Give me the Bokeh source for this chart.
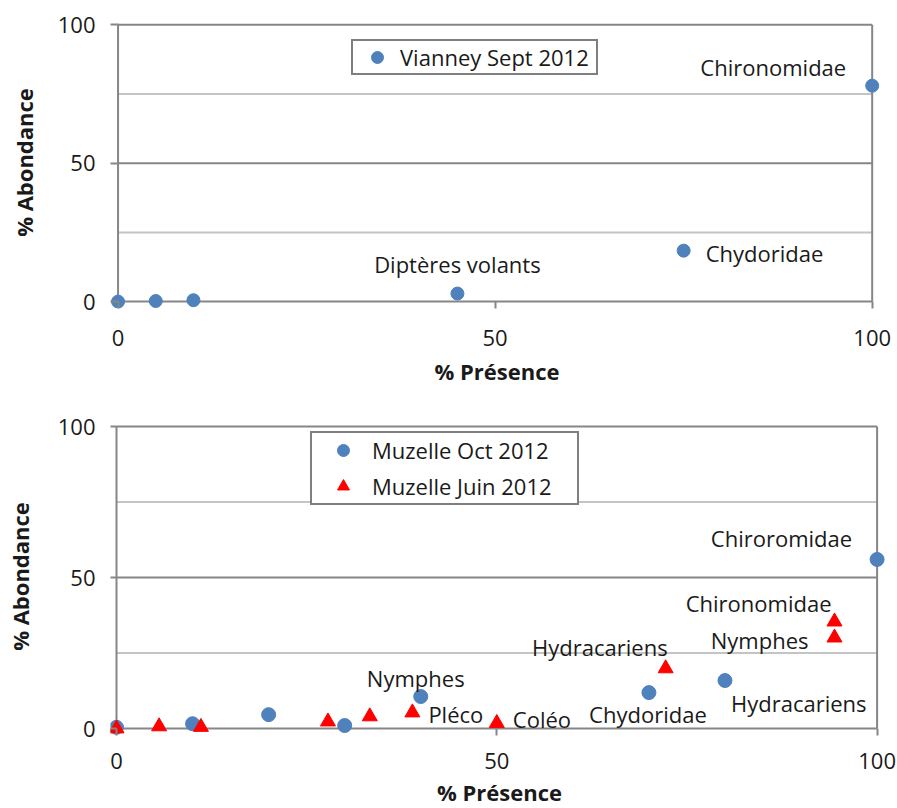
from bokeh.plotting import figure
from bokeh.models import FixedTicker, Range1d, Legend, LegendItem, ColumnDataSource
from bokeh.layouts import column
from bokeh.embed import file_html
from bokeh.resources import INLINE

# ---------------- data ----------------
axis_ticks = [0, 50, 100]
axis_minor_ticks = [25, 75]
axis_bounds = [0, 100]

vianney_presence = [0, 5, 10, 45, 75, 100]
vianney_abondance = [0, 0.2, 0.5, 2.9, 18.4, 78]
vianney_labels = ["", "", "", "Diptères volants", "Chydoridae", "Chironomidae"]

oct_presence = [0, 10, 20, 30, 40, 70, 80, 100]
oct_abondance = [0.4, 1.6, 4.6, 1.0, 10.6, 11.9, 15.9, 56]
oct_labels = ["", "", "", "", "Nymphes", "Chydoridae", "Hydracariens", "Chiroromidae"]

juin_presence = [0, 5.6, 11.1, 27.8, 33.3, 38.9, 50, 72.2, 94.4, 94.4]
juin_abondance = [0, 0.7, 0.5, 2.3, 4.0, 5.3, 1.8, 19.9, 30.1, 35.4]
juin_labels = ["", "", "", "", "", "Pléco", "Coléo", "Hydracariens", "Nymphes", "Chironomidae"]

# ---------------- styles ----------------
FONT = "Open Sans"
FS = "22px"
TXT = "#1a1a1a"
AX = "#868686"
MINOR = "#c4c4c4"
BLUE = "#4F81BD"
RED = "#FF0000"

# label placement (align, dx, dy) for labelled points, in order
vianney_label_style = [("center", 0, -30), ("left", 22, 2), ("right", -26, -19)]
oct_label_style = [("center", -5, -19), ("center", -1, 21), ("left", 6, 22), ("right", -25, -21)]
juin_label_style = [("left", 16, 1), ("left", 16, -4), ("right", 2, -21), ("right", -26, 2), ("right", -3, -19)]


def base_fig(width, height, fw, fh, xr, yr, left, right, top, bottom,
             xtick_in, ytick_in, xlab_so, ylab_so, xtitle_so, ytitle_so):
    p = figure(width=width, height=height, frame_width=fw, frame_height=fh,
               x_range=Range1d(*xr), y_range=Range1d(*yr),
               output_backend="svg", toolbar_location=None,
               min_border_left=left, min_border_right=right,
               min_border_top=top, min_border_bottom=bottom)
    p.outline_line_color = None
    p.background_fill_color = "white"
    p.border_fill_color = "white"
    p.grid.visible = False

    # grid lines and axis lines limited to the 0..100 square
    lo, hi = axis_bounds
    maj = [t for t in axis_ticks]
    p.segment(x0=[lo] * len(axis_minor_ticks), x1=[hi] * len(axis_minor_ticks),
              y0=axis_minor_ticks, y1=axis_minor_ticks, line_color=MINOR, line_width=2)
    p.segment(x0=[lo] * len(maj), x1=[hi] * len(maj), y0=maj, y1=maj,
              line_color=AX, line_width=2)
    p.segment(x0=axis_bounds, x1=axis_bounds, y0=[lo, lo], y1=[hi, hi],
              line_color=AX, line_width=2)

    p.xaxis.ticker = FixedTicker(ticks=axis_ticks)
    p.yaxis.ticker = FixedTicker(ticks=axis_ticks)
    for ax in (p.xaxis[0], p.yaxis[0]):
        ax.axis_line_color = None
        ax.major_tick_line_color = AX
        ax.major_tick_line_width = 2
        ax.major_tick_out = 0
        ax.minor_tick_in = 0
        ax.minor_tick_out = 0
        ax.major_label_text_font = FONT
        ax.major_label_text_font_size = FS
        ax.major_label_text_color = TXT
        ax.axis_label_text_font = FONT
        ax.axis_label_text_font_size = FS
        ax.axis_label_text_font_style = "bold"
        ax.axis_label_text_color = TXT
    p.xaxis.major_tick_in = xtick_in
    p.yaxis.major_tick_in = ytick_in
    p.xaxis.axis_label = "% Présence"
    p.yaxis.axis_label = "% Abondance"
    p.xaxis.major_label_standoff = xlab_so
    p.yaxis.major_label_standoff = ylab_so
    p.xaxis.axis_label_standoff = xtitle_so
    p.yaxis.axis_label_standoff = ytitle_so
    return p


def add_labels(p, xs, ys, labels, styles):
    lx, ly, lt, la, dx, dy = [], [], [], [], [], []
    k = 0
    for x, y, t in zip(xs, ys, labels):
        if t:
            a, ox, oy = styles[k]
            k += 1
            lx.append(x); ly.append(y); lt.append(t); la.append(a); dx.append(ox); dy.append(oy)
    src = ColumnDataSource(dict(x=lx, y=ly, text=lt, align=la, dx=dx, dy=dy))
    p.text(x="x", y="y", text="text", source=src, text_align="align",
           x_offset="dx", y_offset="dy", text_baseline="middle",
           text_font={"value": FONT}, text_font_size={"value": FS}, text_color=TXT)


def style_legend(lg, pad, gw, gh, lw, spacing):
    lg.padding = pad
    lg.margin = 0
    lg.glyph_width = gw
    lg.glyph_height = gh
    lg.label_height = gh
    lg.label_width = lw
    lg.label_standoff = 0
    lg.spacing = spacing
    lg.border_line_color = "black"
    lg.border_line_width = 2
    lg.background_fill_color = "white"
    lg.background_fill_alpha = 1
    lg.label_text_font = FONT
    lg.label_text_font_size = FS
    lg.label_text_color = TXT


# ---------------- top chart ----------------
p1 = base_fig(897, 400, 773, 292, (-1, 101.5), (-2.5, 103), 110, 14, 16, 92,
              7, 8, 21, 15, 7, 16)
r1 = p1.scatter(vianney_presence, vianney_abondance, marker="circle", size=13,
                fill_color=BLUE, line_color=BLUE)
add_labels(p1, vianney_presence, vianney_abondance, vianney_labels, vianney_label_style)
lg1 = Legend(items=[LegendItem(label="Vianney Sept 2012", renderers=[r1])], location=(241, 233))
style_legend(lg1, 1, 46, 30, 195, 0)
p1.add_layout(lg1)

# ---------------- bottom chart ----------------
p2 = base_fig(897, 408, 778, 318, (-0.79, 101.5), (-2.3, 103), 110, 9, 17, 73,
              7, 6, 17, 15, 5, 20)
r2 = p2.scatter(oct_presence, oct_abondance, marker="circle", size=14,
                fill_color=BLUE, line_color=BLUE)
r3 = p2.scatter(juin_presence, juin_abondance, marker="triangle", size=15,
                fill_color=RED, line_color=RED)
add_labels(p2, oct_presence, oct_abondance, oct_labels, oct_label_style)
add_labels(p2, juin_presence, juin_abondance, juin_labels, juin_label_style)
lg2 = Legend(items=[LegendItem(label="Muzelle Oct 2012", renderers=[r2]),
                    LegendItem(label="Muzelle Juin 2012", renderers=[r3])], location=(200, 230))
style_legend(lg2, 2, 58, 30, 203, 6)
p2.add_layout(lg2)

layout = column(p1, p2, spacing=0)
open("out.html", "w").write(file_html(layout, INLINE))
